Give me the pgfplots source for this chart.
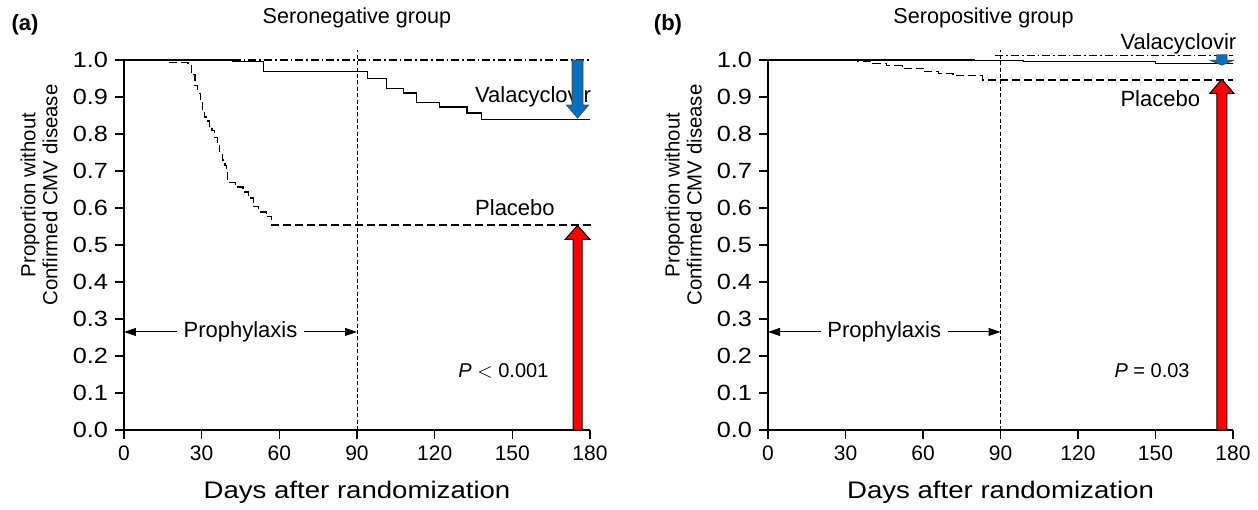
\documentclass[border=0pt]{standalone}
\usepackage{fontspec}
\setmainfont{Liberation Sans}
\newfontfamily\widesans{Liberation Sans}[FakeStretch=1.15]
\usepackage{pgfplots}
\pgfplotsset{compat=1.18}
\usetikzlibrary{arrows.meta}
\definecolor{upred}{RGB}{255,0,0}
\definecolor{downblue}{RGB}{0,112,192}

\newcommand{\lbl}{\fontsize{11}{12}\selectfont}

\pgfplotsset{km/.style={
  width=233pt, height=185pt, scale only axis, clip=false,
  xmin=0, xmax=180, ymin=0, ymax=1,
  axis x line=bottom, axis y line=left,
  axis line style={-, line width=0.75pt},
  xtick={0,30,60,90,120,150,180},
  ytick={0,0.1,0.2,0.3,0.4,0.5,0.6,0.7,0.8,0.9,1.0},
  tick align=outside, major tick length=4.5pt,
  tick style={black, line width=0.75pt},
  /pgf/number format/assume math mode=true,
  x tick label style={font=\fontsize{10.5}{12}\selectfont},
  y tick label style={font=\widesans\fontsize{11}{12}\selectfont,
    /pgf/number format/.cd, fixed, fixed zerofill, precision=1},
  xlabel={Days after randomization},
  xlabel style={font=\widesans\fontsize{12}{13}\selectfont,
    at={(axis description cs:0.5,-0.168)}, anchor=center},
  ylabel={Proportion without\\Confirmed CMV disease},
  ylabel style={font=\fontsize{10.2}{11}\selectfont, align=center,
    at={(axis description cs:-0.182,0.635)}, anchor=center},
}}
\tikzset{
  placebo/.style={const plot, line width=0.6pt, dash pattern=on 4pt off 2pt},
  vala/.style={const plot, line width=0.6pt},
  other/.style={line width=0.6pt, dash pattern=on 4pt off 1.5pt on 0.8pt off 1.5pt},
  prophy/.style={-{Triangle[length=6pt,width=4pt]}, line width=0.5pt},
  cut90/.style={line width=0.4pt, dash pattern=on 2pt off 1.2pt},
}

\begin{document}
\begin{tikzpicture}
% (a) seronegative
\begin{axis}[km, at={(0pt,0pt)}, anchor=south west]
 \addplot[cut90] coordinates {(90,0) (90,1.027)};
 \addplot[other] coordinates {(42,1) (180,1)};
 \addplot[vala] coordinates {
  (0,1.0) (42,0.995) (54,0.968) (94,0.949) (101.5,0.922) (108,0.911)
  (113,0.886) (122,0.873) (132.5,0.857) (138,0.840) (180,0.840)};
 \addplot[placebo] coordinates {
  (0,1.0) (17,0.993) (24.7,0.986) (26,0.96) (27.4,0.93) (28.5,0.91)
  (29.4,0.886) (30.2,0.865) (31,0.846) (32,0.835) (33,0.82) (34,0.81)
  (35,0.79) (36,0.77) (37,0.749) (38,0.73) (39,0.715) (39.6,0.70)
  (40,0.668) (43,0.657) (46,0.643) (48,0.627) (50,0.603) (52,0.589)
  (55,0.576) (57,0.554) (180,0.553)};
 \draw[prophy] (axis cs:20.5,0.265) -- (axis cs:0,0.265);
 \draw[prophy] (axis cs:69.5,0.265) -- (axis cs:90,0.265);
 \node[font=\lbl] at (axis cs:45,0.265) {Prophylaxis};
 \node[font=\lbl, anchor=west, inner sep=0pt] at (axis cs:135.5,0.9) {Valacyclovir};
 \node[font=\lbl, anchor=west, inner sep=0pt] at (axis cs:135.5,0.6) {Placebo};
 \node[font=\fontsize{10}{12}\selectfont, anchor=west, inner sep=0pt] at (axis cs:129,0.16) {\textit{P} $<$ 0.001};
 \filldraw[fill=upred, draw=black, line width=0.5pt]
  (axis cs:173.46,0) -- (axis cs:173.46,0.515) -- (axis cs:170.4,0.515)
  -- (axis cs:175.2,0.553) -- (axis cs:180,0.515) -- (axis cs:176.94,0.515)
  -- (axis cs:176.94,0) -- cycle;
 \filldraw[fill=downblue, draw=black!70, line width=0.4pt]
  (axis cs:173.1,1.0) -- (axis cs:173.1,0.878) -- (axis cs:170.95,0.878)
  -- (axis cs:175.2,0.843) -- (axis cs:179.45,0.878) -- (axis cs:177.3,0.878)
  -- (axis cs:177.3,1.0) -- cycle;
 \node[font=\fontsize{10.8}{12}\selectfont] at (rel axis cs:0.5,1) [yshift=21pt] {Seronegative group};
 \node[font=\bfseries\lbl] at (rel axis cs:0,1) [xshift=-49.5pt, yshift=17.5pt] {(a)};
\end{axis}
% (b) seropositive
\begin{axis}[km, width=232.5pt, at={(322pt,0pt)}, anchor=south west]
 \addplot[cut90] coordinates {(90,0) (90,1.027)};
 \addplot[other] coordinates {(88,1.012) (180,1.012)};
 \addplot[vala] coordinates {
  (0,1.0) (80,0.998) (99,0.995) (150,0.990) (180,0.990)};
 \addplot[placebo] coordinates {
  (0,1.0) (34.5,0.997) (40.6,0.991) (46,0.985) (52,0.978) (60,0.968)
  (66,0.963) (71.6,0.958) (83,0.946) (180,0.946)};
 \draw[prophy] (axis cs:20.5,0.265) -- (axis cs:0,0.265);
 \draw[prophy] (axis cs:69.5,0.265) -- (axis cs:90,0.265);
 \node[font=\lbl] at (axis cs:45,0.265) {Prophylaxis};
 \node[font=\lbl, anchor=west, inner sep=0pt] at (axis cs:136.3,1.043) {Valacyclovir};
 \node[font=\lbl, anchor=west, inner sep=0pt] at (axis cs:136.3,0.895) {Placebo};
 \node[font=\fontsize{10}{12}\selectfont, anchor=west, inner sep=0pt] at (axis cs:134,0.16) {\textit{P} = 0.03};
 \filldraw[fill=upred, draw=black, line width=0.5pt]
  (axis cs:173.76,0) -- (axis cs:173.76,0.91) -- (axis cs:171.05,0.91)
  -- (axis cs:175.7,0.948) -- (axis cs:180.35,0.91) -- (axis cs:177.64,0.91)
  -- (axis cs:177.64,0) -- cycle;
 \filldraw[fill=downblue, draw=black!70, line width=0.4pt]
  (axis cs:173.7,1.014) -- (axis cs:173.7,0.999) -- (axis cs:171.25,0.999)
  -- (axis cs:175.7,0.986) -- (axis cs:180.15,0.999) -- (axis cs:177.7,0.999)
  -- (axis cs:177.7,1.014) -- cycle;
 \node[font=\fontsize{10.8}{12}\selectfont] at (rel axis cs:0.5,1) [xshift=-8.5pt, yshift=21pt] {Seropositive group};
 \node[font=\bfseries\lbl] at (rel axis cs:0,1) [xshift=-50pt, yshift=17.5pt] {(b)};
\end{axis}
\pgfresetboundingbox
\useasboundingbox (-62pt,-39.5pt) rectangle (567pt,215pt);
\end{tikzpicture}
\end{document}
